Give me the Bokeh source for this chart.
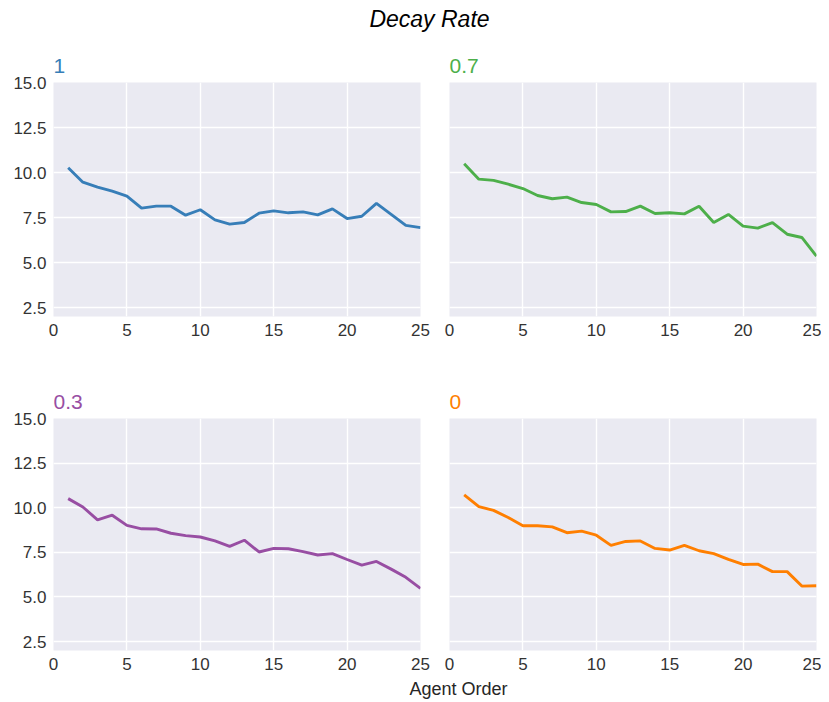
from bokeh.plotting import figure
from bokeh.layouts import column, row
from bokeh.models import Range1d, FixedTicker, NumeralTickFormatter, Label
from bokeh.embed import file_html
from bokeh.resources import INLINE

# ---- data ----
agent_order = list(range(1, 26))
rate_1 = [10.26, 9.46, 9.19, 8.96, 8.69, 8.02, 8.13, 8.13, 7.63, 7.93, 7.37, 7.13, 7.22,
          7.74, 7.87, 7.76, 7.81, 7.65, 7.98, 7.44, 7.57, 8.28, 7.67, 7.06, 6.94]
rate_07 = [10.48, 9.63, 9.56, 9.35, 9.11, 8.72, 8.54, 8.63, 8.33, 8.22, 7.81, 7.83, 8.13,
           7.72, 7.76, 7.70, 8.13, 7.22, 7.67, 7.02, 6.91, 7.22, 6.57, 6.39, 5.35]
rate_03 = [10.51, 10.04, 9.32, 9.58, 9.01, 8.82, 8.81, 8.57, 8.44, 8.36, 8.14, 7.83, 8.18,
           7.52, 7.72, 7.70, 7.54, 7.35, 7.43, 7.10, 6.78, 6.99, 6.56, 6.10, 5.48]
rate_0 = [10.72, 10.06, 9.85, 9.45, 8.99, 8.99, 8.93, 8.60, 8.69, 8.46, 7.89, 8.11, 8.14,
          7.72, 7.63, 7.89, 7.59, 7.43, 7.11, 6.82, 6.84, 6.42, 6.42, 5.61, 5.63]
panel_titles = ["1", "0.7", "0.3", "0"]
panel_colors = ["#377eb8", "#4daf4a", "#984ea3", "#ff7f00"]
x_ticks = [0, 5, 10, 15, 20, 25]
y_ticks = [2.5, 5.0, 7.5, 10.0, 12.5, 15.0]

FONT = "Liberation Sans"
BG = "#eaeaf2"


def panel(title, color, ys, width, height, bl, br, bt, bb, show_y):
    p = figure(width=width, height=height, output_backend="svg", toolbar_location=None,
               x_range=Range1d(0, 25), y_range=Range1d(2.0, 15.0),
               min_border_left=bl, min_border_right=br, min_border_top=bt, min_border_bottom=bb,
               background_fill_color=BG, border_fill_color="white")
    p.title.text = title
    p.title.text_color = color
    p.title.text_font = FONT
    p.title.text_font_size = "21px"
    p.title.text_font_style = "normal"
    p.title.align = "left"
    p.title.offset = 0
    p.title.standoff = 19
    p.outline_line_color = None
    p.line(agent_order, ys, line_color=color, line_width=2.9)
    for ax in (p.xaxis[0], p.yaxis[0]):
        ax.axis_line_color = None
        ax.major_tick_line_color = None
        ax.minor_tick_line_color = None
        ax.major_tick_in = 0
        ax.major_tick_out = 0
        ax.minor_tick_in = 0
        ax.minor_tick_out = 0
        ax.major_label_text_font = FONT
        ax.major_label_text_font_size = "17px"
        ax.major_label_text_color = "#333333"
        ax.major_label_standoff = 7
    p.xaxis.ticker = FixedTicker(ticks=x_ticks)
    p.yaxis.ticker = FixedTicker(ticks=y_ticks)
    p.yaxis.formatter = NumeralTickFormatter(format="0.0")
    p.xgrid.ticker = FixedTicker(ticks=x_ticks)
    p.ygrid.ticker = FixedTicker(ticks=y_ticks)
    p.grid.grid_line_color = "white"
    p.grid.grid_line_width = 1.4
    if not show_y:
        p.yaxis.visible = False
    return p


# title strip
tf = figure(width=821, height=40, output_backend="svg", toolbar_location=None,
            x_range=Range1d(0, 821), y_range=Range1d(0, 40),
            min_border=0, outline_line_color=None)
tf.xaxis.visible = False
tf.yaxis.visible = False
tf.grid.visible = False
tf.add_layout(Label(x=429, y=22, text="Decay Rate", text_align="center", text_baseline="middle",
                    text_font=FONT, text_font_size="23px", text_font_style="italic",
                    text_color="black"))

p1 = panel(panel_titles[0], panel_colors[0], rate_1, 436, 330, 53, 16, 42, 54, True)
p2 = panel(panel_titles[1], panel_colors[1], rate_07, 385, 330, 13, 5, 42, 54, False)
p3 = panel(panel_titles[2], panel_colors[2], rate_03, 436, 302, 53, 16, 48, 20, True)
p4 = panel(panel_titles[3], panel_colors[3], rate_0, 385, 302, 13, 5, 48, 20, False)

bf = figure(width=821, height=28, output_backend="svg", toolbar_location=None,
            x_range=Range1d(0, 821), y_range=Range1d(0, 28),
            min_border=0, outline_line_color=None)
bf.xaxis.visible = False
bf.yaxis.visible = False
bf.grid.visible = False
bf.add_layout(Label(x=458, y=12, text="Agent Order", text_align="center", text_baseline="middle",
                    text_font=FONT, text_font_size="18px", text_color="#262626"))

layout = column(tf, row(p1, p2), row(p3, p4), bf)

open("out.html", "w").write(file_html(layout, INLINE))
